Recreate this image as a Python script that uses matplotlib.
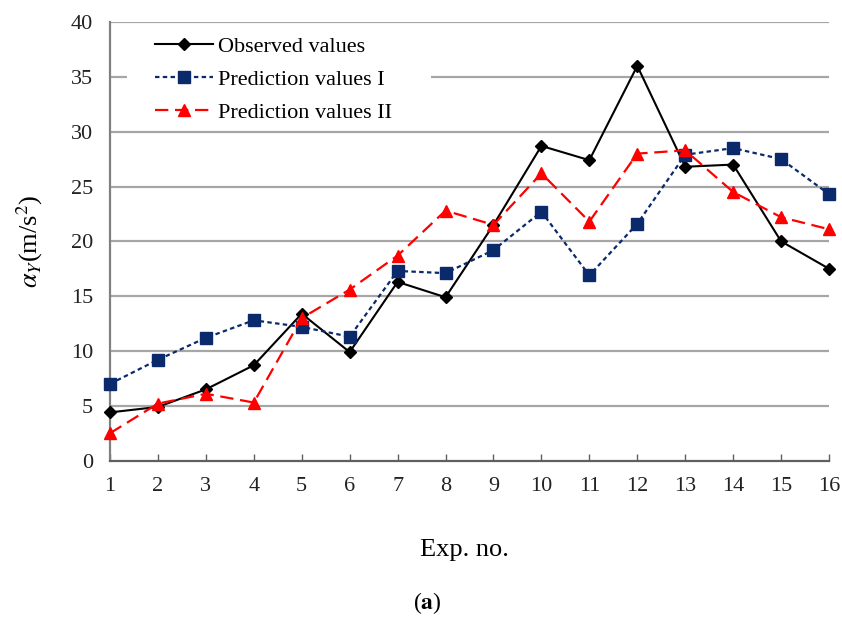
import matplotlib.pyplot as plt
import matplotlib as mpl
from matplotlib.patches import Rectangle

mpl.rcParams['font.family'] = ['Liberation Serif', 'DejaVu Serif']
mpl.rcParams['mathtext.fontset'] = 'stix'

# data
exp_no = list(range(1, 17))
observed = [4.4, 4.9, 6.5, 8.7, 13.4, 9.9, 16.3, 14.9, 21.5, 28.7, 27.4, 36.0, 26.8, 27.0, 20.0, 17.5]
pred_1 = [7.0, 9.2, 11.2, 12.8, 12.2, 11.3, 17.3, 17.1, 19.2, 22.7, 16.9, 21.6, 27.9, 28.5, 27.5, 24.3]
pred_2 = [2.5, 5.2, 6.1, 5.3, 13.0, 15.6, 18.7, 22.8, 21.5, 26.2, 21.8, 28.0, 28.3, 24.5, 22.2, 21.1]

fig = plt.figure(figsize=(8.42, 6.2), dpi=100)
ax = fig.add_axes([0.1306, 0.257, 0.854, 0.7075])

grid_col = '#a6a6a6'
for yv in range(5, 45, 5):
    ax.axhline(yv, color=grid_col, lw=1.6, zorder=1)

# white block behind the legend hides the gridline at 35
ax.add_patch(Rectangle((0.0236, 0.765), 0.423, 0.217, transform=ax.transAxes,
                       facecolor='white', edgecolor='none', zorder=2))

ax.plot(exp_no, observed, color='black', lw=1.5, marker='D', ms=6.5,
        label='Observed values', zorder=3, clip_on=False)
ax.plot(exp_no, pred_1, color='#0b2a6b', lw=1.6, ls=(0, (2, 1.5)), marker='s', ms=8.5,
        label='Prediction values I', zorder=3, clip_on=False)
ax.plot(exp_no, pred_2, color='#ff0000', lw=1.6, ls=(0, (6, 3)), marker='^', ms=9,
        label='Prediction values II', zorder=3, clip_on=False)

ax.set_xlim(1, 16)
ax.set_ylim(0, 40)
ax.set_xticks(exp_no)
ax.set_yticks(range(0, 45, 5))
ax.tick_params(axis='x', direction='in', length=5, width=1, color='#606060', labelsize=16, pad=12)
ax.tick_params(axis='y', length=0, labelsize=16, pad=12)
ax.tick_params(labelcolor='#222222')

for side in ['top', 'right']:
    ax.spines[side].set_visible(False)
ax.spines['left'].set_color('#808080')
ax.spines['bottom'].set_color('#606060')
ax.spines['left'].set_linewidth(1.6)
ax.spines['bottom'].set_linewidth(1.6)

ax.set_ylabel(r'$\alpha_Y$(m/s$^2$)', fontsize=19, labelpad=19)

leg = ax.legend(loc='upper left', bbox_to_anchor=(0.0626, 0.967), fontsize=16,
                frameon=False, handlelength=2.6, handletextpad=0.25,
                labelspacing=0.55, borderpad=0, borderaxespad=0)
leg.set_zorder(4)

fig.text(0.552, 0.113, 'Exp. no.', ha='center', va='center', fontsize=19)
fig.text(0.508, 0.028, r'($\mathbf{a}$)', ha='center', va='center', fontsize=17)

fig.savefig('out.png', dpi=100)
